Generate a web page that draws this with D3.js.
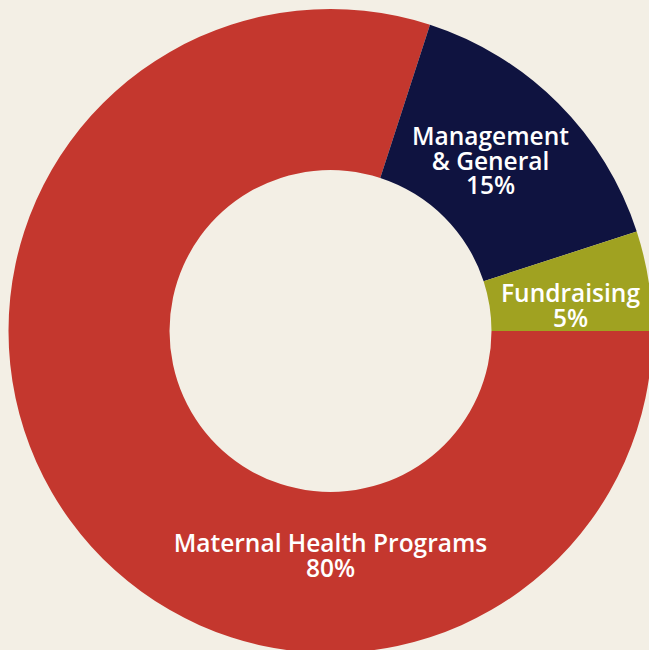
<!DOCTYPE html>
<html><head><meta charset="utf-8">
<script src="https://cdn.jsdelivr.net/npm/d3@7"></script>
<style>html,body{margin:0;padding:0;background:#f3efe5;overflow:hidden}</style>
</head><body>
<svg id="c" width="649" height="650"></svg>
<script>
const categories = ["Maternal Health Programs", "Management & General", "Fundraising"];
const values = [80, 15, 5];
const labelLines = [["Maternal Health Programs", "80%"], ["Management", "& General", "15%"], ["Fundraising", "5%"]];
const colors = ["#c4372e", "#0f1340", "#a0a221"];

const svg = d3.select("#c");
const cx = 330.5, cy = 331, rOuter = 322, rInner = 161;
svg.append("rect").attr("width", 649).attr("height", 650).attr("fill", "#f3efe5");
const g = svg.append("g").attr("transform", `translate(${cx},${cy})`);

const pie = d3.pie().sort(null).value(d => d).startAngle(Math.PI / 2).endAngle(Math.PI / 2 + 2 * Math.PI);
const arcs = pie(values);
const arc = d3.arc().innerRadius(rInner).outerRadius(rOuter);
g.selectAll("path").data(arcs).join("path").attr("d", arc).attr("fill", (d, i) => colors[i]);

// label anchors (relative to center)
const anchors = [[0, 221], [160, -186], [240, -29]];
const lh = 24.5;
arcs.forEach((a, i) => {
  const t = g.append("text").attr("text-anchor", "middle")
    .attr("font-family", "'Open Sans', sans-serif").attr("font-size", 24.5).attr("font-weight", 600)
    .attr("fill", "#ffffff");
  labelLines[i].forEach((ln, j) => {
    t.append("tspan").attr("x", anchors[i][0]).attr("y", anchors[i][1] + j * lh).text(ln);
  });
});
</script>
</body></html>
